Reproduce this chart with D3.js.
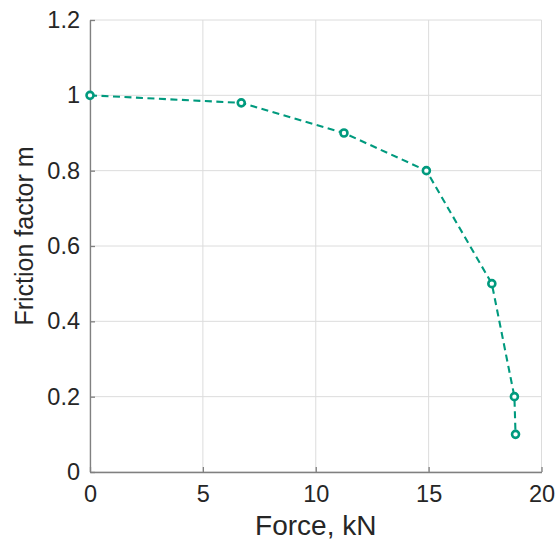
<!DOCTYPE html>
<html><head><meta charset="utf-8">
<script src="https://cdn.jsdelivr.net/npm/d3@7"></script>
<style>body{margin:0;background:#fff}svg{display:block}</style>
</head><body>
<script>
const force = [0, 6.7, 11.25, 14.9, 17.8, 18.8, 18.85];
const friction = [1.0, 0.98, 0.9, 0.8, 0.5, 0.2, 0.1];
const xTicks = [0, 5, 10, 15, 20];
const yTicks = [0, 0.2, 0.4, 0.6, 0.8, 1, 1.2];

const W = 556, H = 541;
const m = {left: 90, right: 14.5, top: 20, bottom: 69};
const svg = d3.select("body").append("svg").attr("width", W).attr("height", H);
const x = d3.scaleLinear().domain([0, 20]).range([m.left, W - m.right]);
const y = d3.scaleLinear().domain([0, 1.2]).range([H - m.bottom, m.top]);
const font = "Liberation Sans, Arial, Helvetica, sans-serif";
const color = "#009a7e";

// grid
svg.append("g").selectAll("line").data(xTicks).join("line")
  .attr("x1", d => x(d)).attr("x2", d => x(d)).attr("y1", y(0)).attr("y2", y(1.2))
  .attr("stroke", "#dcdcdc").attr("stroke-width", 1);
svg.append("g").selectAll("line").data(yTicks).join("line")
  .attr("y1", d => y(d)).attr("y2", d => y(d)).attr("x1", x(0)).attr("x2", x(20))
  .attr("stroke", "#dcdcdc").attr("stroke-width", 1);

// axes
const xAxis = d3.axisBottom(x).tickValues(xTicks).tickSizeInner(-5).tickSizeOuter(0).tickPadding(13).tickFormat(d3.format("d"));
const yAxis = d3.axisLeft(y).tickValues(yTicks).tickSizeInner(-5).tickSizeOuter(0).tickPadding(10).tickFormat(d => d3.format("")(d));
const gx = svg.append("g").attr("transform", `translate(0,${y(0)})`).call(xAxis);
const gy = svg.append("g").attr("transform", `translate(${x(0)},0)`).call(yAxis);
[gx, gy].forEach(g => {
  g.select(".domain").attr("stroke", "#808080").attr("stroke-width", 1.3);
  g.selectAll(".tick line").attr("stroke", "#808080").attr("stroke-width", 1.3);
  g.selectAll(".tick text").attr("font-family", font).attr("font-size", 23.5).attr("fill", "#262626");
});

// labels
svg.append("text").attr("x", x(10)).attr("y", 535).attr("text-anchor", "middle")
  .attr("font-family", font).attr("font-size", 28).attr("fill", "#262626").text("Force, kN");
svg.append("text").attr("transform", `translate(33,236) rotate(-90)`).attr("text-anchor", "middle")
  .attr("font-family", font).attr("font-size", 25).attr("fill", "#262626").text("Friction factor m");

const pts = force.map((f, i) => [f, friction[i]]);
svg.append("path").datum(pts)
  .attr("d", d3.line().x(d => x(d[0])).y(d => y(d[1])))
  .attr("fill", "none").attr("stroke", color).attr("stroke-width", 2.1).attr("stroke-dasharray", "7,4.5");
svg.append("g").selectAll("circle").data(pts).join("circle")
  .attr("cx", d => x(d[0])).attr("cy", d => y(d[1])).attr("r", 3.5)
  .attr("fill", "#fff").attr("stroke", color).attr("stroke-width", 2.6);
</script>
</body></html>
